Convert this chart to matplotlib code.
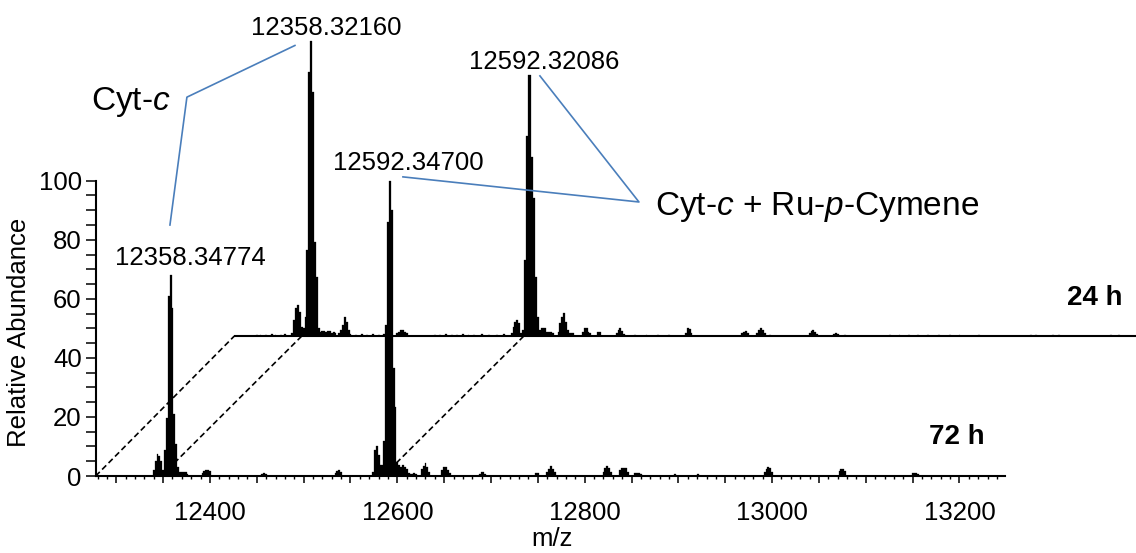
import matplotlib
matplotlib.use("Agg")
import matplotlib.pyplot as plt

plt.rcParams['font.family'] = ['Liberation Sans', 'DejaVu Sans']
plt.rcParams['mathtext.fontset'] = 'custom'
plt.rcParams['mathtext.rm'] = 'Liberation Sans'
plt.rcParams['mathtext.it'] = 'Liberation Sans:italic'

# deconvoluted spectrum, 72 h sample (m/z, relative abundance)
mz_72h = [12340, 12342, 12344, 12346, 12348, 12350, 12352, 12354, 12356, 12358,
          12360, 12362, 12364, 12366, 12368, 12370, 12372, 12374, 12376,
          12392, 12394, 12396, 12398, 12400,
          12456, 12458, 12460, 12534, 12536, 12538, 12540,
          12574, 12576, 12578, 12580, 12582, 12584, 12586, 12588, 12590, 12592,
          12594, 12596, 12598, 12600, 12602, 12604, 12606, 12608, 12610, 12612,
          12614, 12616, 12618, 12620,
          12626, 12628, 12630, 12632, 12634, 12648, 12650, 12652, 12654, 12656,
          12688, 12690, 12692, 12694, 12748, 12750,
          12760, 12762, 12764, 12766, 12768,
          12820, 12822, 12824, 12826, 12828, 12838, 12840, 12842, 12844, 12846,
          12854, 12856, 12858, 12860, 12896, 12921,
          12992, 12994, 12996, 12998, 13000, 13072, 13074, 13076, 13078,
          13150, 13152, 13154, 13156]
ab_72h = [2.0, 5.0, 7.5, 6.8, 5.0, 2.0, 8.8, 19.5, 61, 68,
          57, 21, 11, 3, 1.2, 1.5, 1.5, 1.2, 0.6,
          1.0, 1.6, 2.0, 2.0, 1.6,
          0.8, 1.0, 0.8, 1.0, 1.8, 2.0, 1.2,
          1.5, 8.8, 10, 7, 3.7, 3.7, 12, 51, 86, 100,
          90, 36.5, 23.5, 4.8, 3.7, 3, 3.7, 3, 2.5, 1,
          0.6, 0.8, 1, 0.6,
          2.5, 3.5, 4.5, 3, 1.5, 2, 3, 3, 2.2, 1,
          0.8, 1.2, 1.2, 0.8, 1.0, 1.0,
          1.5, 2.5, 3.4, 2.5, 1.2,
          1.5, 2.8, 3.4, 2.8, 1.5, 2.0, 2.6, 2.6, 2.6, 1.5,
          1.0, 1.0, 1.0, 0.8, 0.6, 0.6,
          1.2, 2.4, 3.0, 2.6, 1.5, 1.8, 2.3, 2.3, 1.8,
          1.0, 1.0, 1.0, 0.8]

# 24 h sample
mz_24h = [12300, 12304, 12310, 12316, 12320, 12326, 12330,
          12338, 12340, 12342, 12344, 12346, 12348, 12350, 12352, 12354, 12356,
          12358, 12360, 12362, 12364, 12366, 12368, 12370, 12372, 12374, 12376,
          12378, 12380, 12382, 12384, 12388, 12390, 12392, 12394, 12396, 12398,
          12400, 12406, 12412, 12418, 12424, 12430, 12436, 12442,
          12450, 12452, 12454, 12456, 12458, 12460,
          12490, 12496, 12502, 12508, 12514, 12520, 12526, 12532, 12540, 12548,
          12556, 12564,
          12572, 12574, 12576, 12578, 12580, 12582, 12584, 12586, 12588, 12590,
          12592, 12594, 12596, 12598, 12600, 12602, 12604, 12606, 12608, 12610,
          12612, 12614, 12616, 12622, 12624, 12626, 12628, 12630, 12632, 12634,
          12636, 12638, 12648, 12650, 12652, 12654, 12656, 12664, 12666,
          12684, 12686, 12688, 12690, 12692, 12704, 12716, 12728, 12740,
          12758, 12760, 12762, 12764, 12818, 12820, 12822, 12824,
          12834, 12836, 12838, 12840, 12842, 12848,
          12890, 12892, 12894, 12896, 12898, 12916, 12918, 12920, 12928,
          12976, 12986, 12996, 13006, 13016, 13028, 13040, 13050, 13071,
          13126, 13132, 13150, 13156, 13212, 13220]
ab_24h = [0.4, 0.5, 0.5, 0.6, 0.5, 0.5, 0.6,
          1.0, 5.4, 9.4, 10.5, 8.2, 3, 2.6, 6.5, 29, 89.5,
          100, 82.7, 32, 20, 2.6, 1.5, 1.8, 1.8, 1.5, 1.8,
          1.8, 1.2, 1.5, 1.2, 1.2, 2.0, 3.7, 6.3, 4.9, 2.0,
          0.8, 0.5, 0.6, 0.5, 0.6, 0.5, 0.6, 0.5,
          1.0, 1.5, 2.0, 2.0, 1.5, 1.0,
          0.5, 0.5, 0.6, 0.5, 0.5, 0.6, 0.5, 0.5, 0.6, 0.5,
          0.5, 0.6,
          1.0, 3.2, 4.9, 5.6, 4.3, 1.0, 2.0, 25.7, 67.7, 88.4,
          88.4, 60.7, 46.6, 20, 6.5, 2, 2.6, 2.6, 2.6, 1.5,
          1.5, 1.5, 1.2, 1.5, 4.3, 6.5, 7.7, 4.9, 2, 1,
          1, 1, 1.5, 2.6, 2.6, 1.5, 1, 1.5, 1.5,
          1.0, 2.0, 2.6, 1.8, 0.8, 0.5, 0.5, 0.5, 0.5,
          1.2, 2.6, 2.4, 1.2, 1.0, 1.5, 1.7, 1.2,
          1.2, 2.0, 2.6, 2.0, 1.0, 0.5,
          1.0, 1.6, 2.0, 1.4, 0.8, 0.8, 1.0, 0.8, 0.5,
          0.4, 0.5, 0.4, 0.5, 0.4, 0.5, 0.4, 0.5, 0.5,
          0.4, 0.5, 0.4, 0.5, 0.5, 0.4]

peak_labels_72h = [(12358, "12358.34774"), (12592, "12592.34700")]
peak_labels_24h = [(12358, "12358.32160"), (12592, "12592.32086")]

# stacking offset of the 24 h trace (pseudo-3D waterfall)
dx, dy = 150, 47.4
x0, x1 = 12278, 13249

fig = plt.figure(figsize=(11.36, 5.53), dpi=100)
ax = fig.add_axes([0.0842, 0.1392, 0.9171, 0.8544])

ax.bar(mz_72h, ab_72h, width=2.0, color='black', edgecolor='black',
       linewidth=0.2, zorder=3)
ax.bar([m + dx for m in mz_24h], ab_24h, width=2.0, bottom=dy,
       color='black', edgecolor='black', linewidth=0.2, zorder=3)
ax.plot([x0 + 148, 13420], [dy, dy], color='black', lw=1.5, zorder=3,
        clip_on=False, solid_capstyle='butt')

# dashed guides between the two traces
for m in [x0, 12348, 12585]:
    ax.plot([m, m + (148 if m == x0 else dx)], [0, dy], color='black',
            lw=1.2, ls=(0, (3.5, 2)), zorder=2)

# peak labels
ax.text(12378.6, 71.5, peak_labels_72h[0][1], ha='center', va='baseline', fontsize=18.5)
ax.text(12611.7, 103.6, peak_labels_72h[1][1], ha='center', va='baseline', fontsize=18.5)
ax.text(12523.6, 149.4, peak_labels_24h[0][1], ha='center', va='baseline', fontsize=18.5)
ax.text(12756.7, 137.8, peak_labels_24h[1][1], ha='center', va='baseline', fontsize=18.5)

blue = '#4A7EBB'
ax.plot([12357.3, 12375.4, 12490.7], [85.0, 128.3, 145.8], color=blue, lw=1.2,
        clip_on=False, zorder=4)
ax.plot([12606.0, 12857.9, 12752.2], [101.3, 92.8, 135.5], color=blue, lw=1.2,
        clip_on=False, zorder=4)
ax.text(12315.7, 123.9, "Cyt-$c$", ha='center', va='baseline', fontsize=24)
ax.text(12874.7, 88.4, "Cyt-$c$ + Ru-$p$-Cymene", ha='left', va='baseline', fontsize=24)

ax.text(13374.5, 57.9, "24 h", ha='right', va='baseline', fontsize=20, fontweight='bold')
ax.text(13227, 10.8, "72 h", ha='right', va='baseline', fontsize=20, fontweight='bold')

ax.set_xlim(x0, 13390)
ax.set_ylim(0, 160)
for s in ['top', 'right']:
    ax.spines[s].set_visible(False)
ax.spines['left'].set_bounds(0, 100)
ax.spines['bottom'].set_bounds(x0, x1)
ax.spines['left'].set_linewidth(1.5)
ax.spines['bottom'].set_linewidth(1.5)

xmajor = list(range(12300, 13250, 50))
ax.set_xticks(xmajor)
ax.set_xticklabels([str(v) if v % 200 == 0 else '' for v in xmajor])
ax.set_xticks([v for v in range(12280, 13250, 10) if v % 50 != 0], minor=True)
ax.set_yticks(range(0, 101, 20))
ax.set_yticks([v for v in range(0, 101, 5) if v % 20 != 0], minor=True)

ax.tick_params(axis='x', which='major', length=5, width=1.1, pad=13, labelsize=18.5)
ax.tick_params(axis='x', which='minor', length=2.2, width=1.0)
ax.tick_params(axis='y', which='both', length=7, width=1.1, pad=3, labelsize=18.5)
ax.set_ylabel("Relative Abundance", fontsize=18.5, labelpad=6)
ax.yaxis.set_label_coords(-0.062, 0.305)

fig.text(552 / 1136, 7 / 553, "m/z", ha='center', va='baseline', fontsize=18.5)

fig.savefig("out.png", dpi=100)
